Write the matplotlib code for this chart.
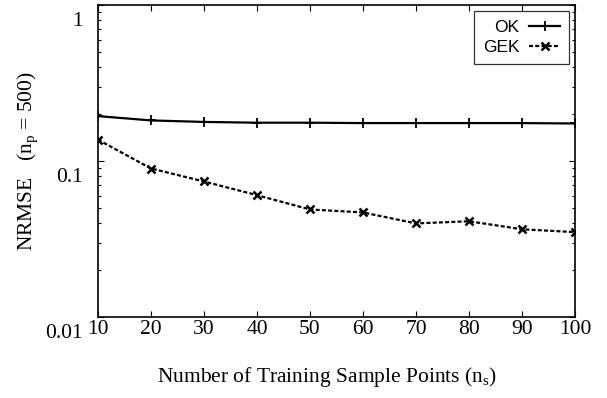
import matplotlib
matplotlib.use("Agg")
import matplotlib.pyplot as plt
from matplotlib.ticker import FixedLocator, FixedFormatter, LogLocator, NullFormatter
from matplotlib.transforms import ScaledTranslation

# ---- data ----
n_samples = [10, 20, 30, 40, 50, 60, 70, 80, 90, 100]
ok_nrmse = [0.194, 0.182, 0.178, 0.176, 0.176, 0.175, 0.175, 0.175, 0.175, 0.174]
gek_nrmse = [0.137, 0.0895, 0.0739, 0.0604, 0.0489, 0.0468, 0.0398, 0.0411, 0.0365, 0.0350]
series_labels = ["OK", "GEK"]
x_ticks = [10, 20, 30, 40, 50, 60, 70, 80, 90, 100]
y_ticks = [0.01, 0.1, 1]
y_tick_labels = ["0.01", "0.1", "1"]

plt.rcParams['font.family'] = ['Liberation Serif', 'DejaVu Serif']
plt.rcParams['mathtext.fontset'] = 'custom'
plt.rcParams['mathtext.rm'] = 'Liberation Serif'
plt.rcParams['mathtext.it'] = 'Liberation Serif:italic'

fig = plt.figure(figsize=(6.07, 3.98), dpi=100)
ax = fig.add_axes([98/607, 1-317/398, (575-98)/607, (317-5)/398])

lw = 1.6
ax.plot(n_samples, ok_nrmse, color='black', lw=lw, marker='+', ms=7, mew=1.3,
        label=series_labels[0])
ax.plot(n_samples, gek_nrmse, color='black', lw=lw, ls=(0, (1.8, 1.0)), marker='x',
        ms=6, mew=1.8, label=series_labels[1])

ax.set_yscale('log')
ax.set_xlim(10, 100)
ax.set_ylim(0.01, 1)

ax.xaxis.set_major_locator(FixedLocator(x_ticks))
ax.yaxis.set_major_locator(FixedLocator(y_ticks))
ax.yaxis.set_major_formatter(FixedFormatter(y_tick_labels))
ax.yaxis.set_minor_locator(LogLocator(base=10, subs=range(2, 10)))
ax.yaxis.set_minor_formatter(NullFormatter())

ax.tick_params(which='both', direction='in', top=True, right=True, labelsize=15.5,
               width=0.8, colors='black')
ax.tick_params(which='major', length=4)
ax.tick_params(which='minor', length=2.5)
ax.tick_params(axis='x', pad=2)
ax.tick_params(axis='y', pad=11)

for sp in ax.spines.values():
    sp.set_linewidth(1.2)

fig.canvas.draw()
off = ScaledTranslation(0, -14/100, fig.dpi_scale_trans)
for t in ax.yaxis.get_major_ticks():
    t.label1.set_transform(t.label1.get_transform() + off)

ax.set_xlabel(r"Number of Training Sample Points (n$_\mathrm{s}$)", fontsize=15.5)
ax.set_ylabel(r"NRMSE   (n$_\mathrm{p}$ = 500)", fontsize=15.5)
ax.xaxis.set_label_coords(0.48, -0.155)
ax.yaxis.set_label_coords(-0.1216, 0.498)

leg = ax.legend(loc='upper right', bbox_to_anchor=(0.9874, 0.9808), borderaxespad=0,
                markerfirst=False, numpoints=1, handlelength=1.8, handletextpad=0.55,
                fancybox=False, edgecolor='#333333', framealpha=1,
                prop={'family': 'Liberation Sans', 'size': 12.5},
                borderpad=0.5, labelspacing=0.3)
leg.get_frame().set_linewidth(0.9)

fig.savefig("out.png", dpi=100)
